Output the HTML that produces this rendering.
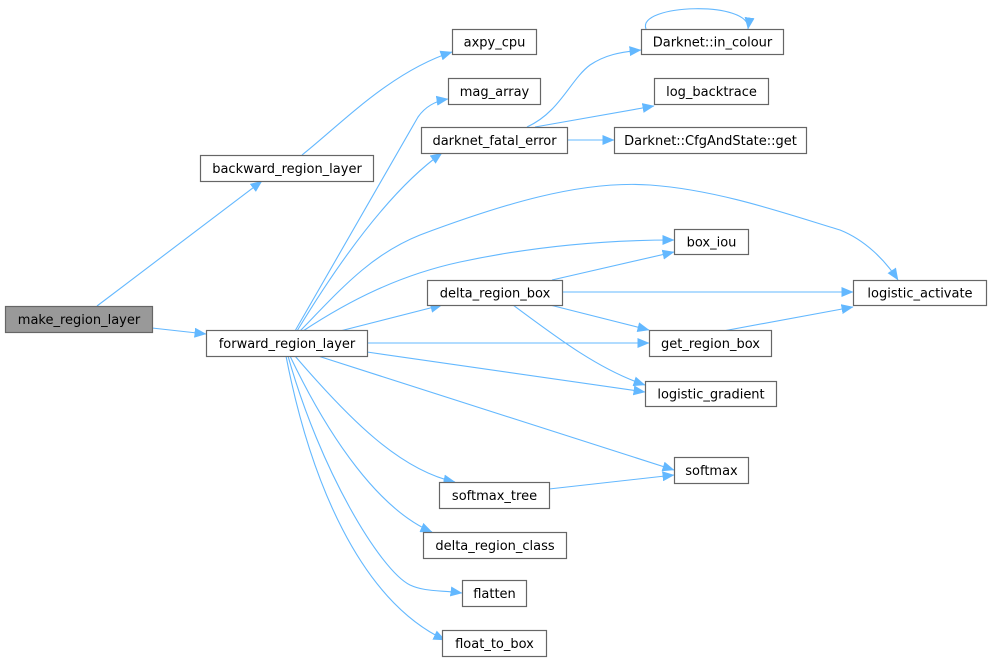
<!DOCTYPE html>
<html><head><meta charset="utf-8"><style>
html,body{margin:0;padding:0;background:#fff;}
svg{display:block;}
text{font-family:"DejaVu Sans","Liberation Sans",sans-serif;font-size:13px;fill:#000;}
</style></head><body>
<svg width="991" height="661" viewBox="0 0 991 661" xmlns="http://www.w3.org/2000/svg">
<defs>
<marker id="a" markerWidth="12" markerHeight="10" refX="11.5" refY="5" orient="auto" markerUnits="userSpaceOnUse">
<polygon points="0,0 12,5 0,10" fill="#63b8ff"/>
</marker>
</defs>
<g fill="none" stroke="#63b8ff" stroke-width="1.1" marker-end="url(#a)">
<path d="M97,306 L262,181"/>
<path d="M152,328 L206,334"/>
<path d="M302,155 C340,125 390,72 452,52"/>
<path d="M295,331 L418,117 C425,107 435,101 448,99"/>
<path d="M297,331 C340,260 390,190 442,153"/>
<path d="M300,331 C340,290 370,255 420,235 C500,205 580,180 650,185 C720,190 790,215 840,230 C865,240 885,260 898,280"/>
<path d="M303,331 C350,300 400,275 460,262 C530,247 600,240 674,240"/>
<path d="M340,331 L442,305"/>
<path d="M367,343 L649,343"/>
<path d="M367,352 L645,392"/>
<path d="M318,356 L674,470"/>
<path d="M295,356 C350,420 400,470 455,482"/>
<path d="M290,356 C330,440 380,510 432,532"/>
<path d="M288,356 C320,470 380,570 410,585 C425,592 440,590 462,593"/>
<path d="M286,356 C310,480 360,600 445,640"/>
<path d="M527,127 C560,112 570,80 590,65 C605,55 620,52 641,50"/>
<path d="M535,127 L654,106"/>
<path d="M567,140 L614,140"/>
<path d="M646,29 C636,4 752,0 748,29"/>
<path d="M552,280 L674,252"/>
<path d="M562,292 L853,292"/>
<path d="M550,305 L649,330"/>
<path d="M513,305 C560,340 600,370 645,385"/>
<path d="M723,331 L853,307"/>
<path d="M549,489 L674,475"/>
</g>
<g stroke="#666" stroke-width="1.2" fill="#fff">
<rect x="5.5" y="306.5" width="147" height="26" fill="#999"/>
<rect x="200.5" y="155.5" width="173" height="26"/>
<rect x="206.5" y="330.5" width="161" height="26"/>
<rect x="452.5" y="29.5" width="84" height="25"/>
<rect x="448.5" y="78.5" width="92" height="26"/>
<rect x="421.5" y="127.5" width="146" height="26"/>
<rect x="641.5" y="29.5" width="142" height="25"/>
<rect x="654.5" y="78.5" width="114" height="26"/>
<rect x="614.5" y="127.5" width="192" height="26"/>
<rect x="674.5" y="229.5" width="74" height="25"/>
<rect x="427.5" y="280.5" width="135" height="25"/>
<rect x="853.5" y="280.5" width="133" height="25"/>
<rect x="649.5" y="330.5" width="122" height="26"/>
<rect x="645.5" y="381.5" width="131" height="25"/>
<rect x="674.5" y="457.5" width="74" height="26"/>
<rect x="439.5" y="482.5" width="110" height="26"/>
<rect x="423.5" y="532.5" width="143" height="26"/>
<rect x="462.5" y="580.5" width="64" height="26"/>
<rect x="442.5" y="630.5" width="104" height="26"/>
</g>
<g text-anchor="middle">
<text x="79" y="324">make_region_layer</text>
<text x="287" y="173">backward_region_layer</text>
<text x="287" y="348">forward_region_layer</text>
<text x="494.5" y="46.5">axpy_cpu</text>
<text x="494.5" y="96">mag_array</text>
<text x="494.5" y="145">darknet_fatal_error</text>
<text x="712.5" y="46.5">Darknet::in_colour</text>
<text x="711.5" y="96">log_backtrace</text>
<text x="710.5" y="145">Darknet::CfgAndState::get</text>
<text x="711.5" y="246.5">box_iou</text>
<text x="495" y="297.5">delta_region_box</text>
<text x="920" y="297.5">logistic_activate</text>
<text x="710.5" y="348">get_region_box</text>
<text x="711" y="398.5">logistic_gradient</text>
<text x="711.5" y="475">softmax</text>
<text x="494.5" y="500">softmax_tree</text>
<text x="495" y="550">delta_region_class</text>
<text x="494.5" y="598">flatten</text>
<text x="494.5" y="648">float_to_box</text>
</g>
</svg>
</body></html>
